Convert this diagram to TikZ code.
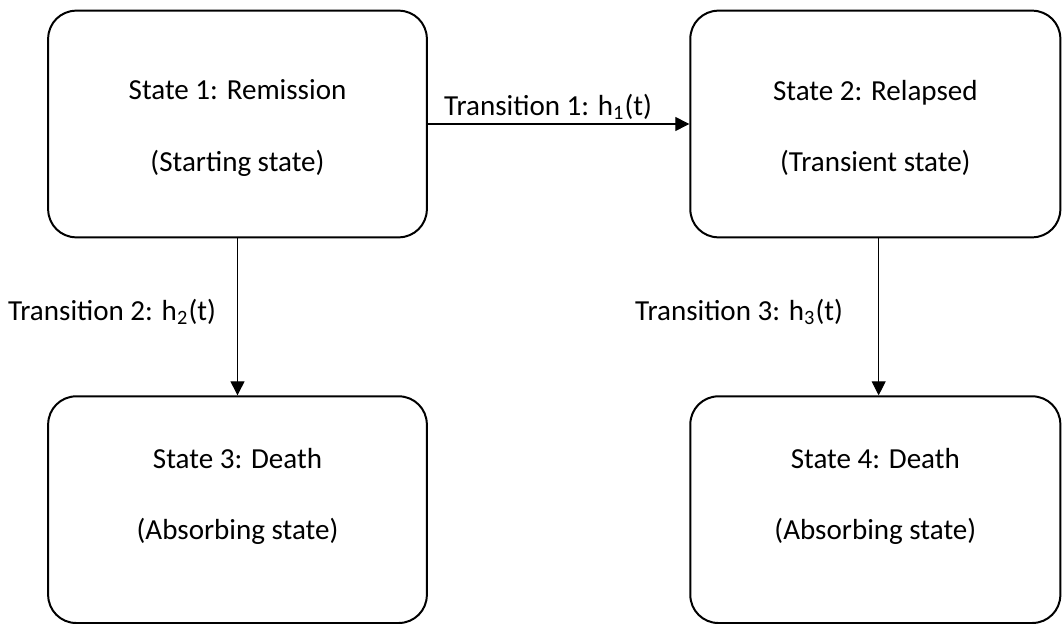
\documentclass[tikz,border=0pt]{standalone}
\usepackage{fontspec}
\setmainfont{Carlito}
\usetikzlibrary{arrows.meta,positioning}

\tikzset{
	state/.style={draw, line width=0.85pt, rounded corners=0.42cm, minimum width=5.68cm, minimum height=3.4cm, inner sep=0pt},
	statetext/.style={align=center, font=\fontsize{12.4}{15}\selectfont},
	trans/.style={-{Triangle[length=2.1mm,width=2.1mm]}, line width=0.45pt},
	translabel/.style={font=\fontsize{12.4}{15}\selectfont}
}

\begin{document}
\begin{tikzpicture}
	\useasboundingbox (0, 0) rectangle (15.93, 9.345);
	% States:
	\node[state] (s1) at (3.5625, 7.485){};
	\node[state, minimum width=5.55cm] (s2) at (13.13, 7.485){};
	\node[state] (s3) at (3.5625, 1.70){};
	\node[state, minimum width=5.55cm] (s4) at (13.13, 1.70){};
	% Texts in the states:
	\node[statetext] (t1) at ([yshift=-0.06cm]s1.center){State 1: Remission\\[0.55cm](Starting state)};
	\node[statetext] (t2) at ([yshift=-0.06cm]s2.center){State 2: Relapsed\\[0.55cm](Transient state)};
	\node[statetext] (t3) at ([yshift=0.2cm]s3.center){State 3: Death\\[0.55cm](Absorbing state)};
	\node[statetext] (t4) at ([yshift=0.2cm]s4.center){State 4: Death\\[0.55cm](Absorbing state)};
	% Transitions:
	\draw[trans] (s1.east) -- node[translabel, above, pos=0.46, inner sep=1.5pt] (l1){Transition 1: h\textsubscript{1}(t)} (s2.west);
	\draw[trans] (s1.south) -- node[translabel, left, pos=0.47, inner sep=9pt] (l2){Transition 2: h\textsubscript{2}(t)} (s3.north);
	\draw[trans] ([xshift=0.05cm]s2.south) -- node[translabel, left, pos=0.47, inner sep=15pt] (l3){Transition 3: h\textsubscript{3}(t)} ([xshift=0.05cm]s4.north);
\end{tikzpicture}
\end{document}
